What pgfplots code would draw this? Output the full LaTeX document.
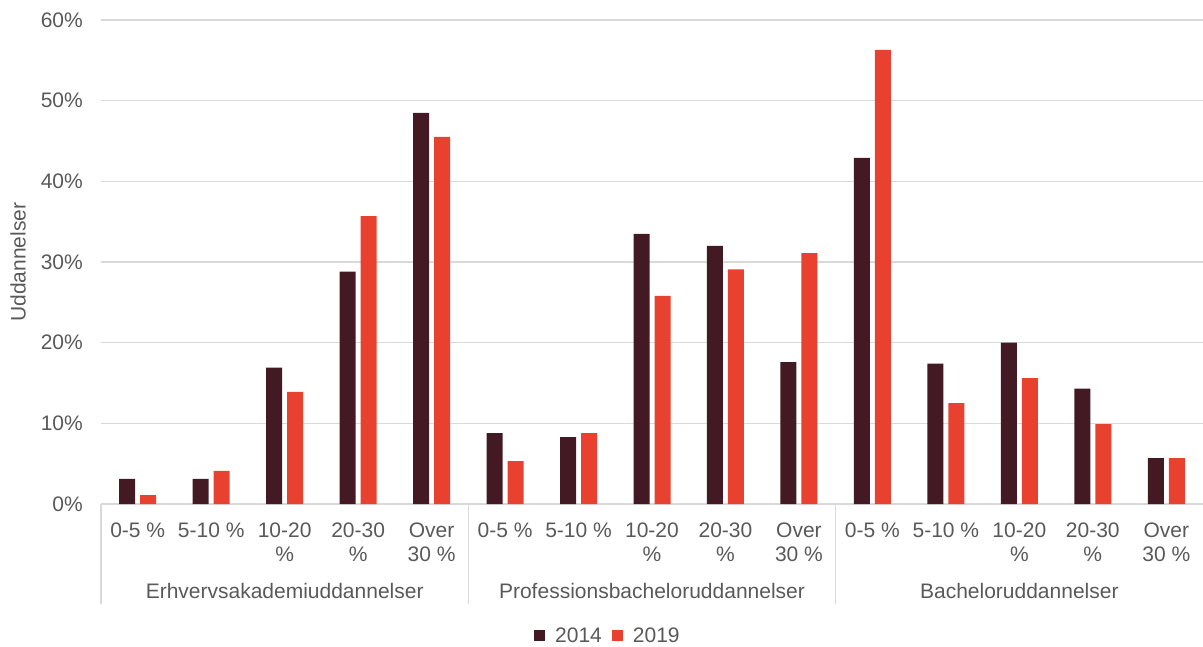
\documentclass[border=0pt]{standalone}
\usepackage{pgfplots}
\pgfplotsset{compat=1.18}
\usepackage{pgfplotstable}
\usepackage{fontspec}
\setmainfont{Liberation Sans}
\definecolor{c2014}{HTML}{431A23}
\definecolor{c2019}{HTML}{E94130}
\definecolor{txt}{HTML}{595959}
\definecolor{grd}{HTML}{D9D9D9}
\pgfplotstableread{
x y
0 3.1
1 3.1
2 16.9
3 28.8
4 48.5
5 8.8
6 8.3
7 33.5
8 32.0
9 17.6
10 42.9
11 17.4
12 20.0
13 14.3
14 5.7
}\dataA
\pgfplotstableread{
x y
0 1.1
1 4.1
2 13.9
3 35.7
4 45.5
5 5.3
6 8.8
7 25.8
8 29.1
9 31.1
10 56.3
11 12.5
12 15.6
13 9.9
14 5.7
}\dataB
\begin{document}
\begin{tikzpicture}[font=\fontsize{21}{24}\selectfont]
\path[use as bounding box] (-101pt,-142pt) rectangle (1102pt,504pt);
\begin{axis}[
  at={(0pt,0pt)}, anchor=south west,
  scale only axis, width=1102pt, height=484pt,
  xmin=-0.5, xmax=14.5, ymin=0, ymax=60,
  ybar=5pt, bar width=16pt,
  axis x line*=bottom, axis y line*=left,
  x axis line style={draw=grd, line width=1.3pt},
  y axis line style={draw=none},
  ymajorgrids, grid style={draw=grd, line width=1.3pt},
  major tick length=0pt,
  ytick={0,10,20,30,40,50,60},
  yticklabels={0\%,10\%,20\%,30\%,40\%,50\%,60\%},
  yticklabel style={text=txt, inner sep=0pt, xshift=-18pt, anchor=east},
  xtick={0,...,14},
  xticklabels={0-5 \%,5-10 \%,{10-20\\\%},{20-30\\\%},{Over\\30 \%},0-5 \%,5-10 \%,{10-20\\\%},{20-30\\\%},{Over\\30 \%},0-5 \%,5-10 \%,{10-20\\\%},{20-30\\\%},{Over\\30 \%}},
  xticklabel style={text=txt, align=center, inner sep=0pt, anchor=north, yshift=-19pt, font=\fontsize{21}{24}\selectfont},
  clip=false,
  legend columns=2,
  legend style={at={(0.4600,-0.2727)}, anchor=center, draw=none, fill=none,
    text=txt, column sep=8pt, font=\fontsize{21}{24}\selectfont,
    nodes={inner sep=2pt}},
  legend image code/.code={\fill[#1] (0pt,-5.5pt) rectangle (11pt,5.5pt);},
]
\addplot[fill=c2014, draw=none] table[x=x,y=y] {\dataA};
\addplot[fill=c2019, draw=none] table[x=x,y=y] {\dataB};
\legend{2014,2019}
\draw[grd, line width=1.3pt] (axis cs:-0.5,0) -- ++(0pt,-100pt);
\draw[grd, line width=1.3pt] (axis cs:4.5,0) -- ++(0pt,-100pt);
\draw[grd, line width=1.3pt] (axis cs:9.5,0) -- ++(0pt,-100pt);
\node[text=txt, anchor=base] at ([yshift=-94pt]axis cs:2,0) {Erhvervsakademiuddannelser};
\node[text=txt, anchor=base] at ([yshift=-94pt]axis cs:7,0) {Professionsbacheloruddannelser};
\node[text=txt, anchor=base] at ([yshift=-94pt]axis cs:12,0) {Bacheloruddannelser};
\node[text=txt, rotate=90, anchor=center] at ([xshift=-83pt]axis description cs:0,0.5) {Uddannelser};
\end{axis}
\end{tikzpicture}
\end{document}
